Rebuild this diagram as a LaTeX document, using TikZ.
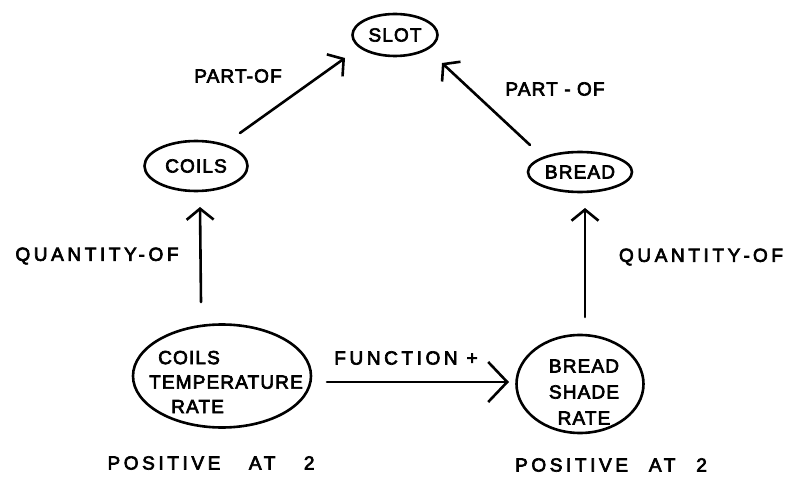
\documentclass[tikz,border=0pt]{standalone}
\usepackage{fontspec}
\newfontfamily\hand{Liberation Sans}[LetterSpace=19,FakeBold=3.5]
\newfontfamily\handtight{Liberation Sans}[LetterSpace=6,FakeBold=3.5]
\usetikzlibrary{shapes.geometric,arrows.meta,calc}
\tikzset{
  blob/.style={ellipse, draw, line width=2.6pt, inner sep=0pt,
    font=\handtight\fontsize{19}{24.5}\selectfont},
  intext/.style={inner sep=0pt, font=\handtight\fontsize{19}{24.5}\selectfont},
  lbl/.style={inner sep=0pt, font=\hand\fontsize{19}{22}\selectfont},
  tightlbl/.style={inner sep=0pt, font=\handtight\fontsize{19}{22}\selectfont},
  arr/.style={line width=2.6pt, line cap=round,
    -{Straight Barb[length=11pt,width=27pt,line width=2.6pt]}},
  bigarr/.style={line width=2.6pt, line cap=round,
    -{Straight Barb[length=19pt,width=40pt,line width=2.6pt]}}
}
\begin{document}
\begin{tikzpicture}[x=1pt,y=-1pt]
\useasboundingbox (0,0) rectangle (789,478);
% nodes
\node[blob, minimum width=85pt, minimum height=42pt] (slot) at (395,35) {SLOT};
\node[blob, minimum width=103pt, minimum height=50pt] (coils) at (196,166) {COILS};
\node[blob, minimum width=104pt, minimum height=40pt] (bread) at (580,172) {BREAD};
\node[blob, minimum width=178pt, minimum height=103pt] (ctr) at (222,376) {};
\node[intext, align=left] (ctrtext) at (226,382)
  {\hspace*{9pt}COILS\\TEMPERATURE\\\hspace*{22pt}RATE};
\node[blob, minimum width=127pt, minimum height=98pt] (bsr) at (580,384) {};
\node[intext, align=center, font=\handtight\fontsize{19}{26}\selectfont] (bsrtext) at (584,392)
  {BREAD\\SHADE\\RATE};
% labels
\node[tightlbl] (partL) at (238,76) {PART-OF};
\node[tightlbl] (partR) at (555,89) {PART - OF};
\node[lbl] (qL) at (97,256) {QUANTITY-OF};
\node[lbl] (qR) at (701,257) {QUANTITY\,-\,OF};
\node[lbl] (func) at (406,358) {FUNCTION +};
\node[lbl] (posL) at (211,463) {POSITIVE\hspace{1.5em}AT\hspace{1.5em}2};
\node[lbl] (posR) at (611,465) {POSITIVE\hspace{1.1em}AT\hspace{1.1em}2};
% connectors
\draw[arr] ($(coils)+(44,-33)$) -- ($(slot)+(-50,23)$);
\draw[arr] ($(bread)+(-50,-27)$) -- ($(slot)+(47,28)$);
\draw[arr] ($(ctr)+(-21,-74)$) -- ($(coils)+(4,41)$);
\draw[arr] ($(bsr)+(5,-67)$) -- ($(bread)+(5,36)$);
\draw[bigarr] ($(ctr)+(105,6)$) -- ($(bsr)+(-71,-2)$);
\end{tikzpicture}
\end{document}
